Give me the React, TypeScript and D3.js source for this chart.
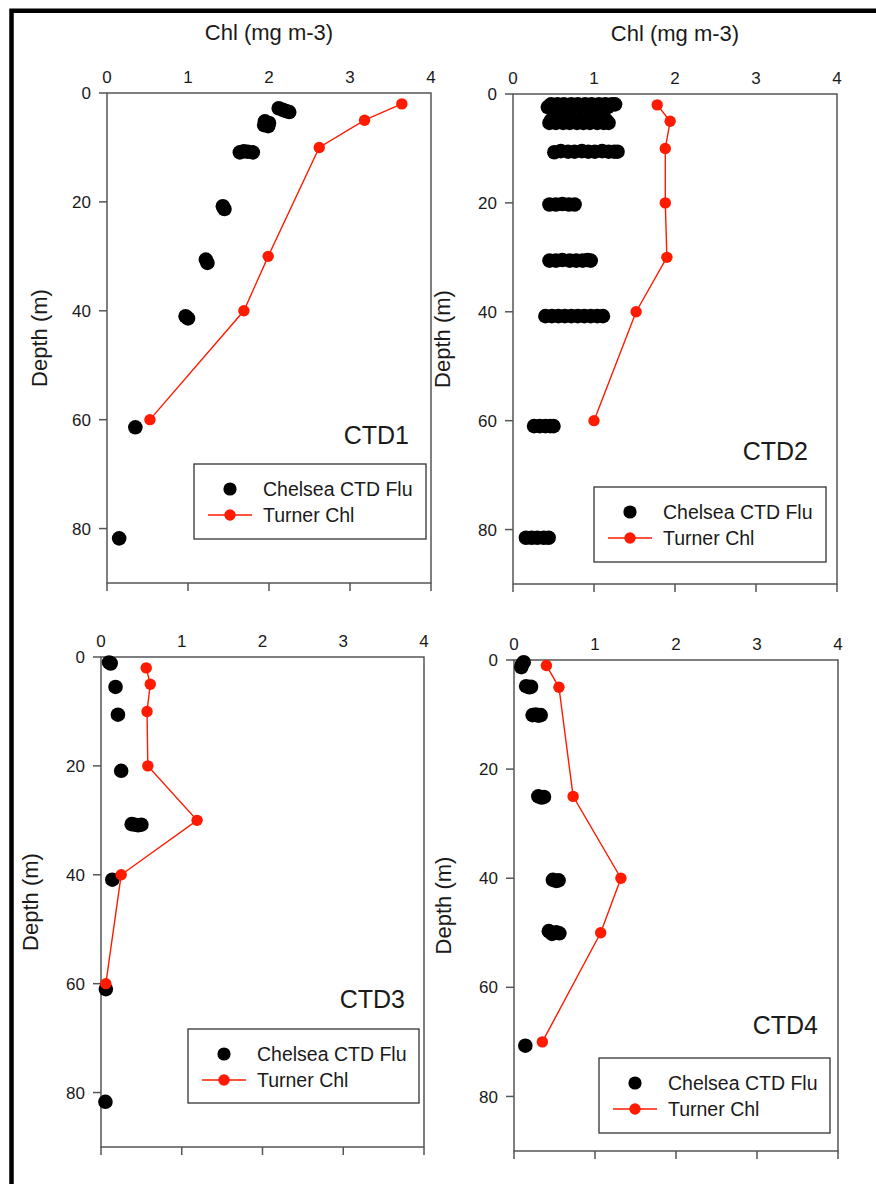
import React from 'react';
import * as d3 from 'd3';

type Pt = [number, number]; // [depth (m), chl (mg m-3)]

const chlTicks = [0, 1, 2, 3, 4];
const depthTicks = [0, 20, 40, 60, 80];
const chlDomain: [number, number] = [0, 4];
const depthDomain: [number, number] = [0, 90];
const panelLabels = ['CTD1', 'CTD2', 'CTD3', 'CTD4'];
const fluLabel = 'Chelsea CTD Flu';
const turnerLabel = 'Turner Chl';
const xTitle = 'Chl (mg m-3)';
const yTitle = 'Depth (m)';

// ---- CTD1 ----
const ctd1Turner: Pt[] = [[2, 3.64], [5, 3.18], [10, 2.62], [30, 1.99], [40, 1.69], [60, 0.53]];
const ctd1Flu: Pt[] = [
  [2.8, 2.12], [3.1, 2.17], [3.3, 2.21], [3.5, 2.25],
  [5.2, 1.95], [5.5, 2.0], [5.9, 1.94], [6.1, 1.99],
  [10.9, 1.64], [10.7, 1.69], [10.8, 1.74], [10.9, 1.8],
  [20.8, 1.43], [21.3, 1.45],
  [30.6, 1.22], [31.2, 1.24],
  [41.0, 0.97], [41.4, 1.0],
  [61.4, 0.35],
  [81.8, 0.15],
];

// ---- CTD2 ----
const ctd2Turner: Pt[] = [[2, 1.78], [5, 1.94], [10, 1.88], [20, 1.88], [30, 1.9], [40, 1.52], [60, 1.0]];
const ctd2Flu: Pt[] = [
  [1.9, 0.47], [1.9, 0.55], [1.9, 0.63], [1.9, 0.72], [1.9, 0.8], [1.9, 0.89], [1.9, 0.97], [1.9, 1.06], [1.9, 1.14], [1.9, 1.22], [1.9, 1.26],
  [2.4, 0.43], [2.4, 0.5], [2.4, 0.58], [2.4, 0.67], [2.4, 0.75], [2.4, 0.84], [2.4, 0.92], [2.4, 1.01], [2.4, 1.09], [2.4, 1.17],
  [4.8, 0.47], [4.8, 0.56], [4.8, 0.64], [4.8, 0.73], [4.8, 0.81], [4.8, 0.9], [4.8, 0.98], [4.8, 1.07], [4.8, 1.15],
  [5.3, 0.45], [5.3, 0.53], [5.3, 0.62], [5.3, 0.7], [5.3, 0.79], [5.3, 0.87], [5.3, 0.95], [5.3, 1.04], [5.3, 1.12], [5.3, 1.18],
  [10.7, 0.51], [10.5, 0.59], [10.6, 0.68], [10.6, 0.76], [10.5, 0.85], [10.6, 0.93], [10.6, 1.01], [10.5, 1.1], [10.6, 1.18], [10.6, 1.25], [10.6, 1.29],
  [20.3, 0.45], [20.3, 0.53], [20.2, 0.61], [20.3, 0.69], [20.3, 0.76],
  [30.6, 0.45], [30.6, 0.53], [30.5, 0.61], [30.6, 0.7], [30.6, 0.78], [30.6, 0.86], [30.5, 0.92], [30.6, 0.96],
  [40.8, 0.4], [40.8, 0.48], [40.8, 0.56], [40.8, 0.64], [40.8, 0.72], [40.8, 0.8], [40.8, 0.88], [40.8, 0.96], [40.8, 1.04], [40.8, 1.11],
  [61.0, 0.26], [61.0, 0.33], [61.0, 0.4], [61.0, 0.46], [61.0, 0.5],
  [81.5, 0.16], [81.5, 0.23], [81.5, 0.3], [81.5, 0.38], [81.5, 0.44],
];

// ---- CTD3 ----
const ctd3Turner: Pt[] = [[2, 0.56], [5, 0.61], [10, 0.57], [20, 0.58], [30, 1.19], [40, 0.25], [60, 0.06]];
const ctd3Flu: Pt[] = [
  [1.0, 0.1], [1.2, 0.12],
  [5.5, 0.18],
  [10.6, 0.21],
  [20.9, 0.25],
  [30.7, 0.38], [30.8, 0.42], [30.9, 0.46], [30.8, 0.5],
  [40.9, 0.14],
  [61.0, 0.06],
  [81.7, 0.055],
];

// ---- CTD4 ----
const ctd4Turner: Pt[] = [[1, 0.4], [5, 0.555], [25, 0.73], [40, 1.32], [50, 1.07], [70, 0.35]];
const ctd4Flu: Pt[] = [
  [0.4, 0.12], [0.8, 0.1], [1.3, 0.09],
  [4.8, 0.15], [5.0, 0.19], [4.9, 0.21],
  [10.1, 0.23], [10.0, 0.27], [10.2, 0.3], [10.1, 0.33],
  [25.0, 0.3], [25.2, 0.34], [25.1, 0.37],
  [40.3, 0.48], [40.5, 0.52], [40.4, 0.55],
  [49.7, 0.43], [50.2, 0.47], [49.9, 0.52], [50.1, 0.56],
  [70.7, 0.14],
];

const turnerSeries = [ctd1Turner, ctd2Turner, ctd3Turner, ctd4Turner];
const fluSeries = [ctd1Flu, ctd2Flu, ctd3Flu, ctd4Flu];

// ---- layout (positions only) ----
const layouts = [
  { x0: 107, x1: 431, y0: 93, y1: 583, title: true, yTitleX: 47, legend: { x: 194, y: 464, w: 232, h: 75 }, label: { x: 409, y: 444 } },
  { x0: 513, x1: 837, y0: 94, y1: 584, title: true, yTitleX: 450, legend: { x: 594, y: 487, w: 232, h: 75 }, label: { x: 808, y: 460 } },
  { x0: 101, x1: 424, y0: 657, y1: 1147, title: false, yTitleX: 38, legend: { x: 188, y: 1029, w: 231, h: 74 }, label: { x: 405, y: 1008 } },
  { x0: 514, x1: 838, y0: 660, y1: 1151, title: false, yTitleX: 451, legend: { x: 599, y: 1058, w: 231, h: 75 }, label: { x: 818, y: 1034 } },
];

const FONT = '"Liberation Sans", Arial, sans-serif';
const TEXT = '#1a1a1a';
const AXIS = '#555';
const RED = '#ff1a00';
const R_BLACK = 7.3;
const R_LEG = 6.6;
const R_RED = 5.7;

function Panel({ idx }: { idx: number }) {
  const L = layouts[idx];
  const x = d3.scaleLinear().domain(chlDomain).range([L.x0, L.x1]);
  const y = d3.scaleLinear().domain(depthDomain).range([L.y0, L.y1]);
  const line = d3.line<Pt>().x((d) => x(d[1])).y((d) => y(d[0]));
  const turner = turnerSeries[idx];
  const flu = fluSeries[idx];
  const lg = L.legend;
  const yMid = (L.y0 + L.y1) / 2;
  return (
    <g>
      {L.title && (
        <text x={(L.x0 + L.x1) / 2} y={L.y0 - 53} textAnchor="middle" fontSize={22} fill={TEXT} fontFamily={FONT}>
          {xTitle}
        </text>
      )}
      <text
        transform={`translate(${L.yTitleX},${yMid}) rotate(-90)`}
        textAnchor="middle"
        fontSize={22}
        fill={TEXT}
        fontFamily={FONT}
      >
        {yTitle}
      </text>
      {chlTicks.map((t) => (
        <text key={'tx' + t} x={x(t)} y={L.y0 - 10} textAnchor="middle" fontSize={17} fill={TEXT} fontFamily={FONT}>
          {t}
        </text>
      ))}
      {chlTicks.map((t) => (
        <line key={'bt' + t} x1={x(t)} x2={x(t)} y1={L.y1} y2={L.y1 + 8} stroke={AXIS} strokeWidth={1.5} />
      ))}
      {depthTicks.map((t) => (
        <g key={'yt' + t}>
          <line x1={L.x0 - 8} x2={L.x0} y1={y(t)} y2={y(t)} stroke={AXIS} strokeWidth={1.5} />
          <text x={L.x0 - 16} y={y(t)} dy="0.36em" textAnchor="end" fontSize={17} fill={TEXT} fontFamily={FONT}>
            {t}
          </text>
        </g>
      ))}
      <rect x={L.x0} y={L.y0} width={L.x1 - L.x0} height={L.y1 - L.y0} fill="none" stroke={AXIS} strokeWidth={1.5} />
      {flu.map((d, i) => (
        <circle key={'f' + i} cx={x(d[1])} cy={y(d[0])} r={R_BLACK} fill="#000" />
      ))}
      <path d={line(turner) || ''} fill="none" stroke={RED} strokeWidth={1.4} />
      {turner.map((d, i) => (
        <circle key={'t' + i} cx={x(d[1])} cy={y(d[0])} r={R_RED} fill={RED} />
      ))}
      <text x={L.label.x} y={L.label.y} textAnchor="end" fontSize={25} fill={TEXT} fontFamily={FONT}>
        {panelLabels[idx]}
      </text>
      <rect x={lg.x} y={lg.y} width={lg.w} height={lg.h} fill="#fff" stroke="#333" strokeWidth={1.3} />
      <circle cx={lg.x + 36} cy={lg.y + 25} r={R_LEG} fill="#000" />
      <text x={lg.x + 69} y={lg.y + 25} dy="0.36em" fontSize={19.5} fill={TEXT} fontFamily={FONT}>
        {fluLabel}
      </text>
      <line x1={lg.x + 14} x2={lg.x + 58} y1={lg.y + 51} y2={lg.y + 51} stroke={RED} strokeWidth={1.4} />
      <circle cx={lg.x + 36} cy={lg.y + 51} r={R_RED} fill={RED} />
      <text x={lg.x + 69} y={lg.y + 51} dy="0.36em" fontSize={19.5} fill={TEXT} fontFamily={FONT}>
        {turnerLabel}
      </text>
    </g>
  );
}

export default function App() {
  return (
    <svg
      width={876}
      height={1184}
      style={{ position: 'absolute', left: 0, top: 0, background: '#fff' }}
      xmlns="http://www.w3.org/2000/svg"
    >
      <rect x={0} y={0} width={876} height={1184} fill="#fff" />
      <path d="M11.5,1184 L11.5,10.8 L876,10.8" fill="none" stroke="#000" strokeWidth={4.5} />
      {layouts.map((_, i) => (
        <Panel key={i} idx={i} />
      ))}
    </svg>
  );
}
